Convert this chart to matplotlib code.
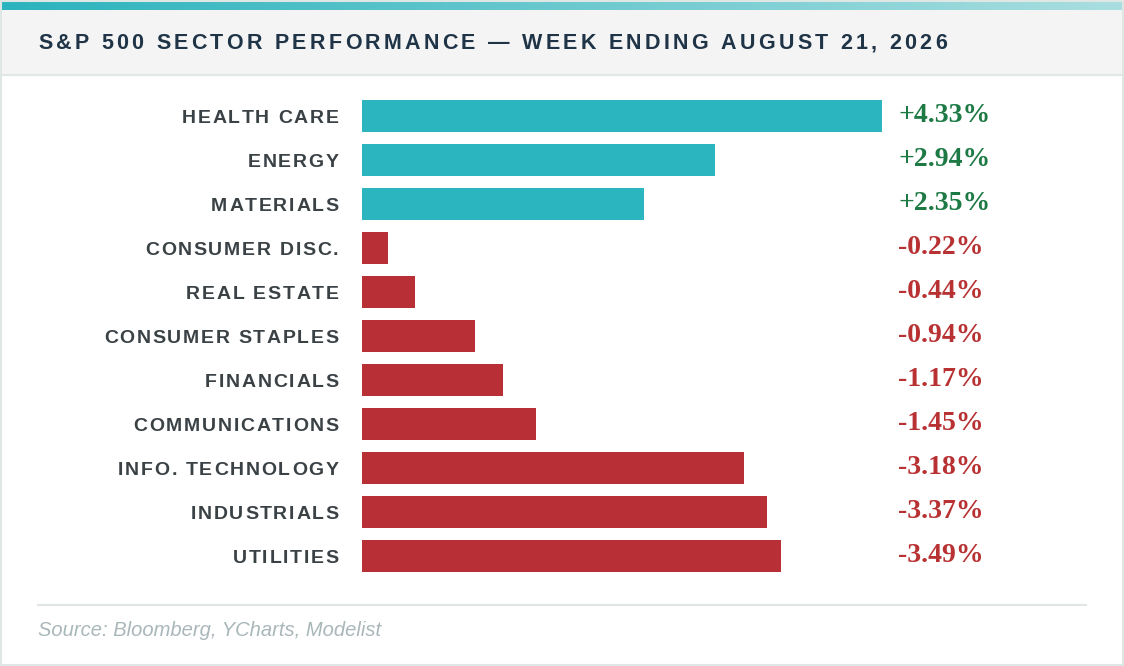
import numpy as np
import matplotlib
matplotlib.use('Agg')
import matplotlib.pyplot as plt
import matplotlib.transforms as mtransforms
from matplotlib.patches import Rectangle
from matplotlib.lines import Line2D
from matplotlib.colors import LinearSegmentedColormap
from matplotlib.font_manager import FontProperties, findfont, get_font

# data
sectors = ['HEALTH CARE', 'ENERGY', 'MATERIALS', 'CONSUMER DISC.', 'REAL ESTATE',
           'CONSUMER STAPLES', 'FINANCIALS', 'COMMUNICATIONS', 'INFO. TECHNOLOGY',
           'INDUSTRIALS', 'UTILITIES']
changes = [4.33, 2.94, 2.35, -0.22, -0.44, -0.94, -1.17, -1.45, -3.18, -3.37, -3.49]
title = 'S&P 500 SECTOR PERFORMANCE \u2014 WEEK ENDING AUGUST 21, 2026'
source = 'Source: Bloomberg, YCharts, Modelist'

W, H, DPI = 1124, 666, 100
fig = plt.figure(figsize=(W / DPI, H / DPI), dpi=DPI)
fig.patch.set_facecolor('white')

# pixel coords, origin top-left
px = mtransforms.Affine2D().scale(1 / W, -1 / H).translate(0, 1) + fig.transFigure


def spaced_text(x, y, s, transform, size, spacing, ha='left', weight='bold',
                family='Liberation Sans', color='black'):
    # draw text char by char to get css-like letter spacing
    fp = FontProperties(family=family, weight=weight)
    font = get_font(findfont(fp))
    font.set_size(size, DPI)
    advs = [font.load_char(ord(c)).linearHoriAdvance / 65536 for c in s]
    total = sum(advs) + spacing * (len(s) - 1)
    pos = 0 if ha == 'left' else -total
    cap = 0.716 * size * DPI / 72
    for c, a in zip(s, advs):
        tr = mtransforms.offset_copy(transform, fig=fig, x=pos, y=-cap / 2, units='dots')
        fig.text(x, y, c, transform=tr, ha='left', va='baseline', fontsize=size,
                 fontweight=weight, family=family, color=color)
        pos += a + spacing


# card border
fig.add_artist(Rectangle((1, 1), W - 2, H - 2, transform=px, facecolor='none',
                         edgecolor='#dfe7e5', lw=1.5))
# header
fig.add_artist(Rectangle((2, 10), W - 4, 64, transform=px, facecolor='#f4f4f4',
                         edgecolor='none'))
fig.add_artist(Line2D([2, W - 2], [74.5, 74.5], transform=px, color='#e0e8e6', lw=1.6))

# gradient strip on top
ax_g = fig.add_axes([2 / W, 1 - 10 / H, (W - 4) / W, 8 / H])
cmap = LinearSegmentedColormap.from_list('strip', ['#2bb3bd', '#a9dee0'])
ax_g.imshow(np.linspace(0, 1, 256)[None, :], cmap=cmap, aspect='auto')
ax_g.axis('off')

spaced_text(38, 41, title, px, 15.5, 3.25, color='#1f3447')

# bars
ax = fig.add_axes([362 / W, 1 - 578 / H, 520 / W, 484 / H])
ypos = np.arange(len(sectors))
vals = np.abs(changes)
bar_colors = ['#2ab5bf' if v > 0 else '#b83035' for v in changes]
ax.barh(ypos, vals, height=0.727, color=bar_colors)
ax.set_xlim(0, vals.max())
ax.set_ylim(len(sectors) - 0.5, -0.5)
ax.axis('off')

serif_bold = FontProperties(family='Liberation Serif', weight='bold', size=20)
trans = mtransforms.blended_transform_factory(px, ax.transData)
for i, (name, v) in enumerate(zip(sectors, changes)):
    spaced_text(338.5, i, name, trans, 14, 1.7, ha='right', color='#3b4246')
    ax.text(898, i, f'{v:+.2f}%', transform=trans, ha='left', va='center',
            fontproperties=serif_bold, color='#1d7a45' if v > 0 else '#b83234')

# footer
fig.add_artist(Line2D([38, 1086], [605, 605], transform=px, color='#dfe6e4', lw=1.5))
fig.text(38, 631, source, transform=px, ha='left', va='center', fontsize=14.5,
         style='italic', family='Liberation Sans', color='#a9b7ba')

fig.savefig('out.png', dpi=DPI, facecolor='white')
